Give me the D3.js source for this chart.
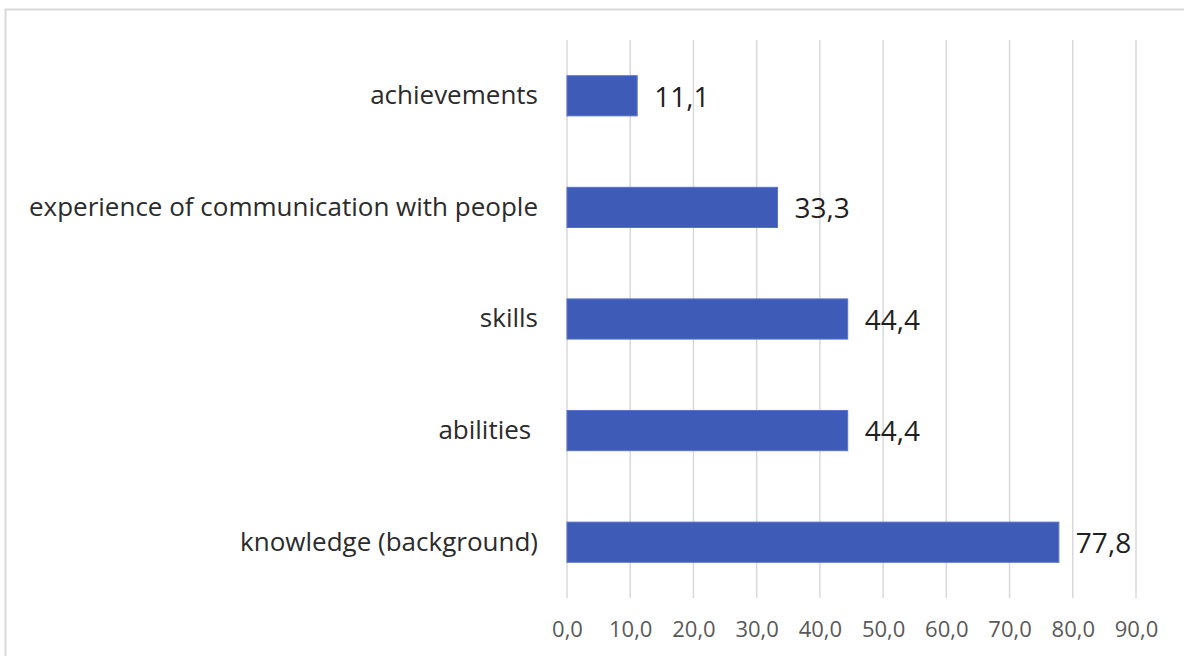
<!DOCTYPE html>
<html>
<head>
<meta charset="utf-8">
<script src="https://cdn.jsdelivr.net/npm/d3@7"></script>
<style>
  html, body { margin: 0; padding: 0; background: #ffffff; }
  svg { display: block; }
  text { font-family: "Open Sans", Lato, sans-serif; }
</style>
</head>
<body>
<svg id="chart" width="1184" height="656"></svg>
<script>
// Categories, top to bottom as they appear on the chart
const categories = [
  "achievements",
  "experience of communication with people",
  "skills",
  "abilities ",
  "knowledge (background)"
];
// Share of responses, %
const values = [11.1, 33.3, 44.4, 44.4, 77.8];
// Axis ticks
const tickValues = [0, 10, 20, 30, 40, 50, 60, 70, 80, 90];

const svg = d3.select("#chart");
const W = 1184, H = 656;
const plot = { left: 567, right: 1136, top: 40, bottom: 598 };

const fmt = v => d3.format(".1f")(v).replace(".", ",");

// Chart frame
svg.append("rect")
  .attr("x", 5.5).attr("y", 9.5)
  .attr("width", W + 20).attr("height", H + 20)
  .attr("fill", "#ffffff")
  .attr("stroke", "#d9d9d9")
  .attr("stroke-width", 2);

const x = d3.scaleLinear().domain([0, 90]).range([plot.left, plot.right]);
const y = d3.scaleBand()
  .domain(categories)
  .range([plot.top, plot.bottom])
  .paddingInner(0.64)
  .paddingOuter(0.32);

// Vertical gridlines
svg.append("g")
  .selectAll("line")
  .data(tickValues)
  .join("line")
  .attr("x1", d => x(d)).attr("x2", d => x(d))
  .attr("y1", plot.top).attr("y2", plot.bottom)
  .attr("stroke", "#d9d9d9")
  .attr("stroke-width", 1.5);

// Value axis labels
const xAxis = d3.axisBottom(x).tickValues(tickValues).tickFormat(fmt).tickSize(0).tickPadding(0);
const gx = svg.append("g")
  .attr("transform", `translate(0, 629)`)
  .call(xAxis);
gx.select(".domain").remove();
gx.selectAll("text")
  .attr("dy", "0.35em")
  .attr("y", 0)
  .attr("fill", "#595959")
  .style("font-size", "22px")
  .style("font-family", "'Open Sans', Lato, sans-serif");

// Category axis labels
const yAxis = d3.axisLeft(y).tickSize(0).tickPadding(0);
const gy = svg.append("g")
  .attr("transform", `translate(538, 0)`)
  .call(yAxis);
gy.select(".domain").remove();
gy.selectAll("text")
  .attr("x", 0)
  .attr("fill", "#2b2b2b")
  .style("font-size", "26px")
  .style("white-space", "pre")
  .style("font-family", "'Open Sans', Lato, sans-serif");

// Bars
svg.append("g")
  .selectAll("rect")
  .data(categories)
  .join("rect")
  .attr("x", x(0))
  .attr("y", d => y(d))
  .attr("width", (d, i) => x(values[i]) - x(0))
  .attr("height", y.bandwidth())
  .attr("fill", "#3e5bb8")
  .attr("stroke", "#5a74c6")
  .attr("stroke-width", 1);

// Data labels
svg.append("g")
  .selectAll("text")
  .data(categories)
  .join("text")
  .attr("x", (d, i) => x(values[i]) + 17)
  .attr("y", d => y(d) + y.bandwidth() / 2 + 1)
  .attr("dy", "0.35em")
  .attr("fill", "#1f1f1f")
  .style("font-size", "28px")
  .text((d, i) => fmt(values[i]));
</script>
</body>
</html>
